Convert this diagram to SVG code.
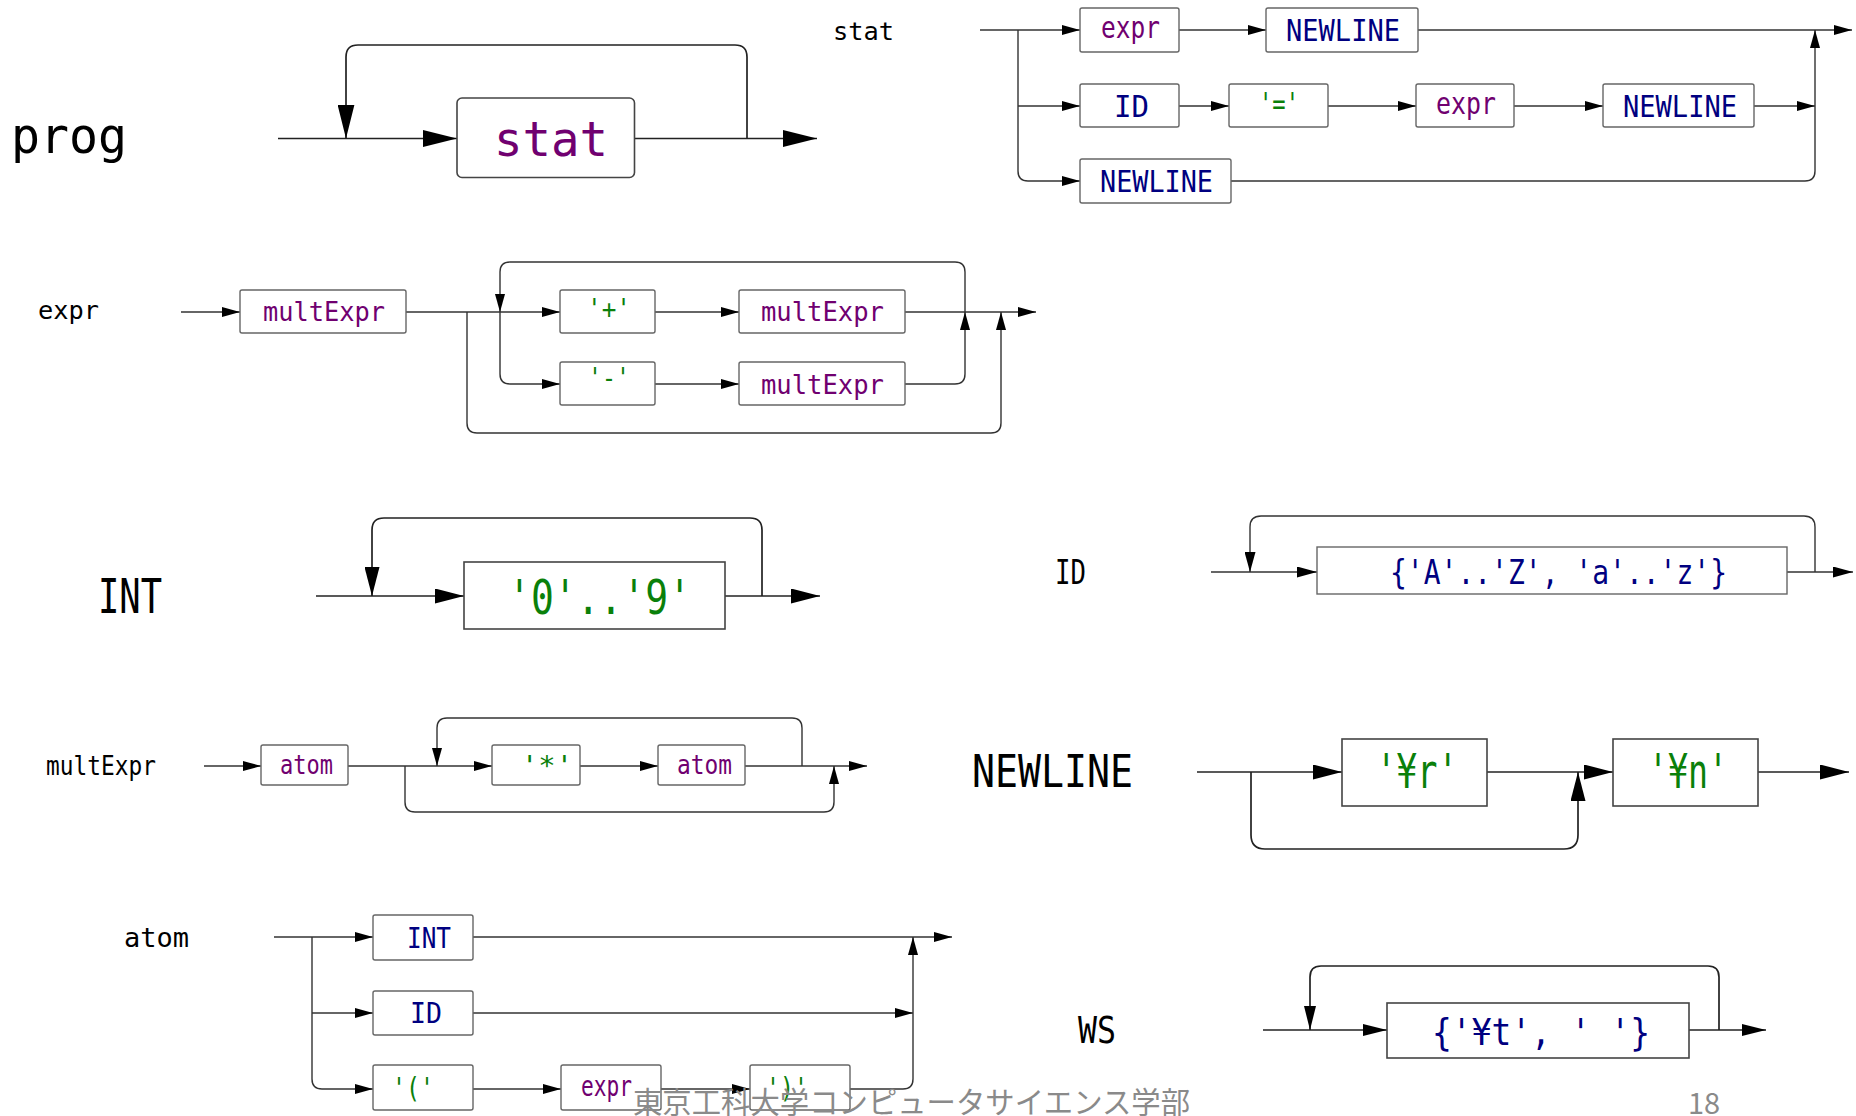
<svg xmlns="http://www.w3.org/2000/svg" xmlns:xlink="http://www.w3.org/1999/xlink" width="1856" height="1116" viewBox="0 0 1856 1116">
<defs>
<marker id="aS" viewBox="0 0 18 10" refX="18" refY="5" markerWidth="18" markerHeight="10" orient="auto" markerUnits="userSpaceOnUse"><path d="M0,0 L18,5 L0,10 Z" fill="#000"/></marker>
<marker id="aM" viewBox="0 0 20 11" refX="20" refY="5.5" markerWidth="20" markerHeight="11" orient="auto" markerUnits="userSpaceOnUse"><path d="M0,0 L20,5.5 L0,11 Z" fill="#000"/></marker>
<marker id="aW" viewBox="0 0 24 12" refX="24" refY="6" markerWidth="24" markerHeight="12" orient="auto" markerUnits="userSpaceOnUse"><path d="M0,0 L24,6 L0,12 Z" fill="#000"/></marker>
<marker id="aL" viewBox="0 0 29 15" refX="29" refY="7.5" markerWidth="29" markerHeight="15" orient="auto" markerUnits="userSpaceOnUse"><path d="M0,0 L29,7.5 L0,15 Z" fill="#000"/></marker>
<marker id="aXL" viewBox="0 0 34 17" refX="34" refY="8.5" markerWidth="34" markerHeight="17" orient="auto" markerUnits="userSpaceOnUse"><path d="M0,0 L34,8.5 L0,17 Z" fill="#000"/></marker>
</defs>
<style>
text{font-family:"DejaVu Sans Mono","Liberation Mono",monospace;}
.lbl{fill:#000;}
.box{fill:#fff;stroke:#666;stroke-width:1.4;}
.bigbox{fill:#fff;stroke:#444;stroke-width:1.6;}
.c path{fill:none;stroke:#333;stroke-width:1.4;}
.c .big path,.c path.big{stroke:#222;stroke-width:1.7;}
.s path{marker-end:url(#aS);}
.pu{fill:#700070;}
.nv{fill:#000080;}
.gr{fill:#0a800a;}
.foot{font-family:"Noto Sans CJK JP","Noto Sans",sans-serif;fill:#8a8a8a;}
</style>
<rect width="1856" height="1116" fill="#fff"/>

<!-- connectors -->
<g class="c" id="connectors">
 <!-- prog -->
 <g class="big">
  <path d="M278,138.5 H457" marker-end="url(#aXL)"/>
  <path d="M634.5,138.5 H817" marker-end="url(#aXL)"/>
  <path d="M747,138.5 V57 Q747,45 735,45 H358 Q346,45 346,57 V138.5" marker-end="url(#aXL)"/>
 </g>
 <!-- stat -->
 <g class="s">
  <path d="M980,30 H1080"/>
  <path d="M1179,30 H1266"/>
  <path d="M1418,30 H1852"/>
  <path d="M1018,30 V171 Q1018,181 1028,181 H1080"/>
  <path d="M1018,106 H1080"/>
  <path d="M1179,106 H1229"/>
  <path d="M1328,106 H1416"/>
  <path d="M1514,106 H1603"/>
  <path d="M1754,106 H1815"/>
  <path d="M1231,181 H1805 Q1815,181 1815,171 V30"/>
 </g>
 <!-- expr -->
 <g class="s">
  <path d="M181,312 H240"/>
  <path d="M406,312 H560"/>
  <path d="M655,312 H739"/>
  <path d="M905,312 H1036"/>
  <path d="M467,312 V423 Q467,433 477,433 H991 Q1001,433 1001,423 V312"/>
  <path d="M905,384 H955 Q965,384 965,374 V312"/>
  <path d="M965,312 V272 Q965,262 955,262 H510 Q500,262 500,272 V312"/>
  <path d="M500,312 V374 Q500,384 510,384 H560"/>
  <path d="M655,384 H739"/>
 </g>
 <!-- INT -->
 <g class="big">
  <path d="M316,596 H464" marker-end="url(#aL)"/>
  <path d="M725,596 H820" marker-end="url(#aL)"/>
  <path d="M762,596 V530 Q762,518 750,518 H384 Q372,518 372,530 V596" marker-end="url(#aL)"/>
 </g>
 <!-- ID -->
 <path d="M1211,572 H1317" marker-end="url(#aM)"/>
 <path d="M1787,572 H1853" marker-end="url(#aM)"/>
 <path d="M1815,572 V527 Q1815,516 1804,516 H1261 Q1250,516 1250,527 V572" marker-end="url(#aM)"/>
 <!-- multExpr -->
 <g class="s">
  <path d="M204,766 H261"/>
  <path d="M348,766 H492"/>
  <path d="M580,766 H658"/>
  <path d="M745,766 H867"/>
  <path d="M405,766 V802 Q405,812 415,812 H824 Q834,812 834,802 V766"/>
  <path d="M802,766 V728 Q802,718 792,718 H447 Q437,718 437,728 V766"/>
 </g>
 <!-- NEWLINE -->
 <g class="big">
  <path d="M1197,772 H1342" marker-end="url(#aL)"/>
  <path d="M1487,772 H1613" marker-end="url(#aL)"/>
  <path d="M1758,772 H1849" marker-end="url(#aL)"/>
  <path d="M1251,772 V835 Q1251,849 1265,849 H1564 Q1578,849 1578,835 V772" marker-end="url(#aL)"/>
 </g>
 <!-- atom -->
 <g class="s">
  <path d="M274,937 H373"/>
  <path d="M473,937 H952"/>
  <path d="M312,937 V1079 Q312,1089 322,1089 H373"/>
  <path d="M312,1013 H373"/>
  <path d="M473,1013 H913"/>
  <path d="M473,1089 H561"/>
  <path d="M661,1089 H750"/>
  <path d="M850,1089 H903 Q913,1089 913,1079 V937"/>
 </g>
 <!-- WS -->
 <g class="big">
  <path d="M1263,1030 H1387" marker-end="url(#aW)"/>
  <path d="M1689,1030 H1766" marker-end="url(#aW)"/>
  <path d="M1719,1030 V977 Q1719,966 1708,966 H1321 Q1310,966 1310,977 V1030" marker-end="url(#aW)"/>
 </g>
</g>

<!-- prog -->
<g id="prog">
 <text class="lbl" x="11" y="153" font-size="49" textLength="116" lengthAdjust="spacingAndGlyphs">prog</text>
 <g id="prog-stat">
  <rect class="bigbox" x="457" y="98" width="177.5" height="79.5" rx="5"/>
  <text class="pu" x="494" y="156" font-size="48" textLength="114" lengthAdjust="spacingAndGlyphs">stat</text>
 </g>
</g>

<!-- stat -->
<g id="stat">
 <text class="lbl" x="833" y="40" font-size="24" textLength="61" lengthAdjust="spacingAndGlyphs">stat</text>
 <g id="stat-expr1"><rect class="box" x="1080" y="8" width="99" height="44" rx="2"/><text class="pu" x="1101" y="38" font-size="30" textLength="59" lengthAdjust="spacingAndGlyphs">expr</text></g>
 <g id="stat-newline1"><rect class="box" x="1266" y="8" width="152" height="44" rx="2"/><text class="nv" x="1286" y="41" font-size="30" textLength="114" lengthAdjust="spacingAndGlyphs">NEWLINE</text></g>
 <g id="stat-id"><rect class="box" x="1080" y="84" width="99" height="43" rx="2"/><text class="nv" x="1114" y="117" font-size="30" textLength="35" lengthAdjust="spacingAndGlyphs">ID</text></g>
 <g id="stat-eq"><rect class="box" x="1229" y="84" width="99" height="43" rx="2"/><text class="gr" x="1259" y="114" font-size="30" textLength="40" lengthAdjust="spacingAndGlyphs">'='</text></g>
 <g id="stat-expr2"><rect class="box" x="1416" y="84" width="98" height="43" rx="2"/><text class="pu" x="1436" y="114" font-size="30" textLength="60" lengthAdjust="spacingAndGlyphs">expr</text></g>
 <g id="stat-newline2"><rect class="box" x="1603" y="84" width="151" height="43" rx="2"/><text class="nv" x="1623" y="117" font-size="30" textLength="114" lengthAdjust="spacingAndGlyphs">NEWLINE</text></g>
 <g id="stat-newline3"><rect class="box" x="1080" y="159" width="151" height="44" rx="2"/><text class="nv" x="1100" y="192" font-size="30" textLength="113" lengthAdjust="spacingAndGlyphs">NEWLINE</text></g>
</g>

<!-- expr -->
<g id="expr">
 <text class="lbl" x="38" y="319" font-size="24" textLength="61" lengthAdjust="spacingAndGlyphs">expr</text>
 <g id="expr-m1"><rect class="box" x="240" y="290" width="166" height="43" rx="2"/><text class="pu" x="263" y="321" font-size="27" textLength="122" lengthAdjust="spacingAndGlyphs">multExpr</text></g>
 <g id="expr-plus"><rect class="box" x="560" y="290" width="95" height="43" rx="2"/><text class="gr" x="587" y="318" font-size="27" textLength="44" lengthAdjust="spacingAndGlyphs">'+'</text></g>
 <g id="expr-m2"><rect class="box" x="739" y="290" width="166" height="43" rx="2"/><text class="pu" x="761" y="321" font-size="27" textLength="123" lengthAdjust="spacingAndGlyphs">multExpr</text></g>
 <g id="expr-minus"><rect class="box" x="560" y="362" width="95" height="43" rx="2"/><text class="gr" x="588" y="387" font-size="27" textLength="42" lengthAdjust="spacingAndGlyphs">'-'</text></g>
 <g id="expr-m3"><rect class="box" x="739" y="362" width="166" height="43" rx="2"/><text class="pu" x="761" y="394" font-size="27" textLength="123" lengthAdjust="spacingAndGlyphs">multExpr</text></g>
</g>

<!-- INT -->
<g id="INT">
 <text class="lbl" x="98" y="613" font-size="48" textLength="64" lengthAdjust="spacingAndGlyphs">INT</text>
 <g id="int-range"><rect class="bigbox" x="464" y="562" width="261" height="67"/><text class="gr" x="508" y="614" font-size="48" textLength="183" lengthAdjust="spacingAndGlyphs">'0'..'9'</text></g>
</g>

<!-- ID -->
<g id="ID">
 <text class="lbl" x="1055" y="584" font-size="34" textLength="31" lengthAdjust="spacingAndGlyphs">ID</text>
 <g id="id-range"><rect class="box" x="1317" y="547" width="470" height="47"/><text class="nv" x="1390" y="584" font-size="34" textLength="337" lengthAdjust="spacingAndGlyphs">{'A'..'Z', 'a'..'z'}</text></g>
</g>

<!-- multExpr -->
<g id="multExpr">
 <text class="lbl" x="46" y="775" font-size="26" textLength="110" lengthAdjust="spacingAndGlyphs">multExpr</text>
 <g id="mult-atom1"><rect class="box" x="261" y="745" width="87" height="40" rx="2"/><text class="pu" x="280" y="774" font-size="27" textLength="53" lengthAdjust="spacingAndGlyphs">atom</text></g>
 <g id="mult-star"><rect class="box" x="492" y="745" width="88" height="40" rx="2"/><text class="gr" x="521" y="775" font-size="27" textLength="52" lengthAdjust="spacingAndGlyphs">'*'</text></g>
 <g id="mult-atom2"><rect class="box" x="658" y="745" width="87" height="40" rx="2"/><text class="pu" x="677" y="774" font-size="27" textLength="55" lengthAdjust="spacingAndGlyphs">atom</text></g>
</g>

<!-- NEWLINE -->
<g id="NEWLINE">
 <text class="lbl" x="972" y="787" font-size="44" textLength="161" lengthAdjust="spacingAndGlyphs">NEWLINE</text>
 <g id="nl-r"><rect class="bigbox" x="1342" y="739" width="145" height="67"/><text class="gr" x="1376" y="788" font-size="48" textLength="82" lengthAdjust="spacingAndGlyphs">'¥r'</text></g>
 <g id="nl-n"><rect class="bigbox" x="1613" y="739" width="145" height="67"/><text class="gr" x="1648" y="788" font-size="48" textLength="80" lengthAdjust="spacingAndGlyphs">'¥n'</text></g>
</g>

<!-- atom -->
<g id="atom">
 <text class="lbl" x="124" y="947" font-size="27" textLength="65" lengthAdjust="spacingAndGlyphs">atom</text>
 <g id="atom-int"><rect class="box" x="373" y="915" width="100" height="45" rx="2"/><text class="nv" x="407" y="948" font-size="29" textLength="44" lengthAdjust="spacingAndGlyphs">INT</text></g>
 <g id="atom-id"><rect class="box" x="373" y="991" width="100" height="44" rx="2"/><text class="nv" x="410" y="1023" font-size="29" textLength="32" lengthAdjust="spacingAndGlyphs">ID</text></g>
 <g id="atom-lp"><rect class="box" x="373" y="1065" width="100" height="45" rx="2"/><text class="gr" x="392" y="1098" font-size="29" textLength="42" lengthAdjust="spacingAndGlyphs">'('</text></g>
 <g id="atom-expr"><rect class="box" x="561" y="1065" width="100" height="45" rx="2"/><text class="pu" x="581" y="1096" font-size="29" textLength="51" lengthAdjust="spacingAndGlyphs">expr</text></g>
 <g id="atom-rp"><rect class="box" x="750" y="1065" width="100" height="45" rx="2"/><text class="gr" x="766" y="1098" font-size="29" textLength="42" lengthAdjust="spacingAndGlyphs">')'</text></g>
</g>

<!-- WS -->
<g id="WS">
 <text class="lbl" x="1078" y="1043" font-size="38" textLength="38" lengthAdjust="spacingAndGlyphs">WS</text>
 <g id="ws-set"><rect class="bigbox" x="1387" y="1003" width="302" height="55"/><text class="nv" x="1432" y="1045" font-size="38" textLength="218" lengthAdjust="spacingAndGlyphs">{'¥t', ' '}</text></g>
</g>

<!-- footer -->
<text class="foot" x="633" y="1113" font-size="30" textLength="557" lengthAdjust="spacingAndGlyphs">東京工科大学コンピュータサイエンス学部</text>
<text class="foot" x="1688" y="1114" font-size="29" font-family="Open Sans, sans-serif">18</text>
</svg>
